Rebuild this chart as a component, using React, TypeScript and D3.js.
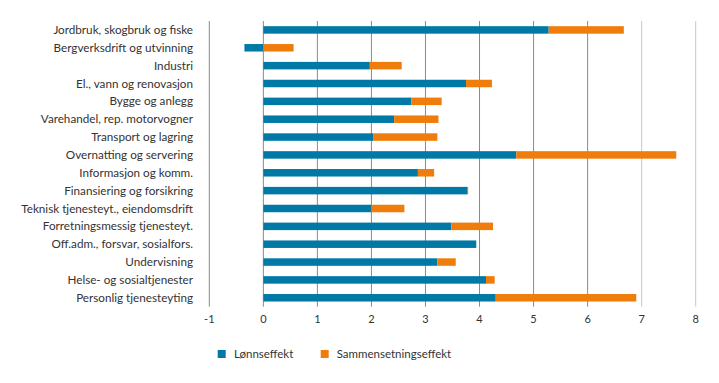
import React from "react";
import * as d3 from "d3";

const categories = [
  "Jordbruk, skogbruk og fiske",
  "Bergverksdrift og utvinning",
  "Industri",
  "El., vann og renovasjon",
  "Bygge og anlegg",
  "Varehandel, rep. motorvogner",
  "Transport og lagring",
  "Overnatting og servering",
  "Informasjon og komm.",
  "Finansiering og forsikring",
  "Teknisk tjenesteyt., eiendomsdrift",
  "Forretningsmessig tjenesteyt.",
  "Off.adm., forsvar, sosialfors.",
  "Undervisning",
  "Helse- og sosialtjenester",
  "Personlig tjenesteyting",
];
const lonnseffekt = [5.28, -0.35, 1.97, 3.75, 2.74, 2.42, 2.03, 4.68, 2.86, 3.78, 2.0, 3.48, 3.94, 3.22, 4.12, 4.3];
const sammensetningseffekt = [1.39, 0.56, 0.59, 0.48, 0.56, 0.82, 1.19, 2.96, 0.3, 0.01, 0.61, 0.77, 0.0, 0.34, 0.16, 2.6];
const xTicks = [-1, 0, 1, 2, 3, 4, 5, 6, 7, 8];
const seriesNames = ["Lønnseffekt", "Sammensetningseffekt"];

const BLUE = "#0079a6";
const ORANGE = "#f07d0b";
const FONT = "Lato, 'Open Sans', sans-serif";

export default function App() {
  const W = 719, H = 383;
  const x = d3.scaleLinear().domain([-1, 8]).range([209.3, 695.7]);
  const y = d3.scaleBand<string>().domain(categories).range([21, 306.7]);
  const bh = 7.5;
  return (
    <svg width={W} height={H} style={{ position: "absolute", left: 0, top: 0, background: "#fff" }} fontFamily={FONT}>
      {xTicks.map((t) => (
        <line key={t} x1={x(t)} x2={x(t)} y1={21} y2={306.7}
          stroke={t >= 7 ? "#c8c8c8" : "#8a8a8a"} strokeWidth={1} />
      ))}
      {categories.map((c, i) => {
        const yc = (y(c) as number) + y.bandwidth() / 2;
        const b = lonnseffekt[i];
        const s = sammensetningseffekt[i];
        const bx0 = Math.min(x(0), x(b));
        const bw = Math.abs(x(b) - x(0));
        const sStart = b >= 0 ? b : 0;
        return (
          <g key={c}>
            <rect x={bx0} y={yc - bh / 2} width={bw} height={bh} fill={BLUE} />
            {s > 0 && (
              <rect x={x(sStart)} y={yc - bh / 2} width={x(sStart + s) - x(sStart)} height={bh} fill={ORANGE} />
            )}
            <text x={193} y={yc} dy="0.35em" textAnchor="end" fontSize={11.7} fill="#333">{c}</text>
          </g>
        );
      })}
      {xTicks.map((t) => (
        <text key={"l" + t} x={x(t)} y={319} dy="0.35em" textAnchor="middle" fontSize={11} fill="#333">{t}</text>
      ))}
      <rect x={217.7} y={350} width={8} height={8} fill={BLUE} />
      <text x={234} y={354} dy="0.35em" fontSize={11.5} fill="#333">{seriesNames[0]}</text>
      <rect x={320.7} y={350} width={8} height={8} fill={ORANGE} />
      <text x={336.7} y={354} dy="0.35em" fontSize={11.5} fill="#333">{seriesNames[1]}</text>
    </svg>
  );
}
